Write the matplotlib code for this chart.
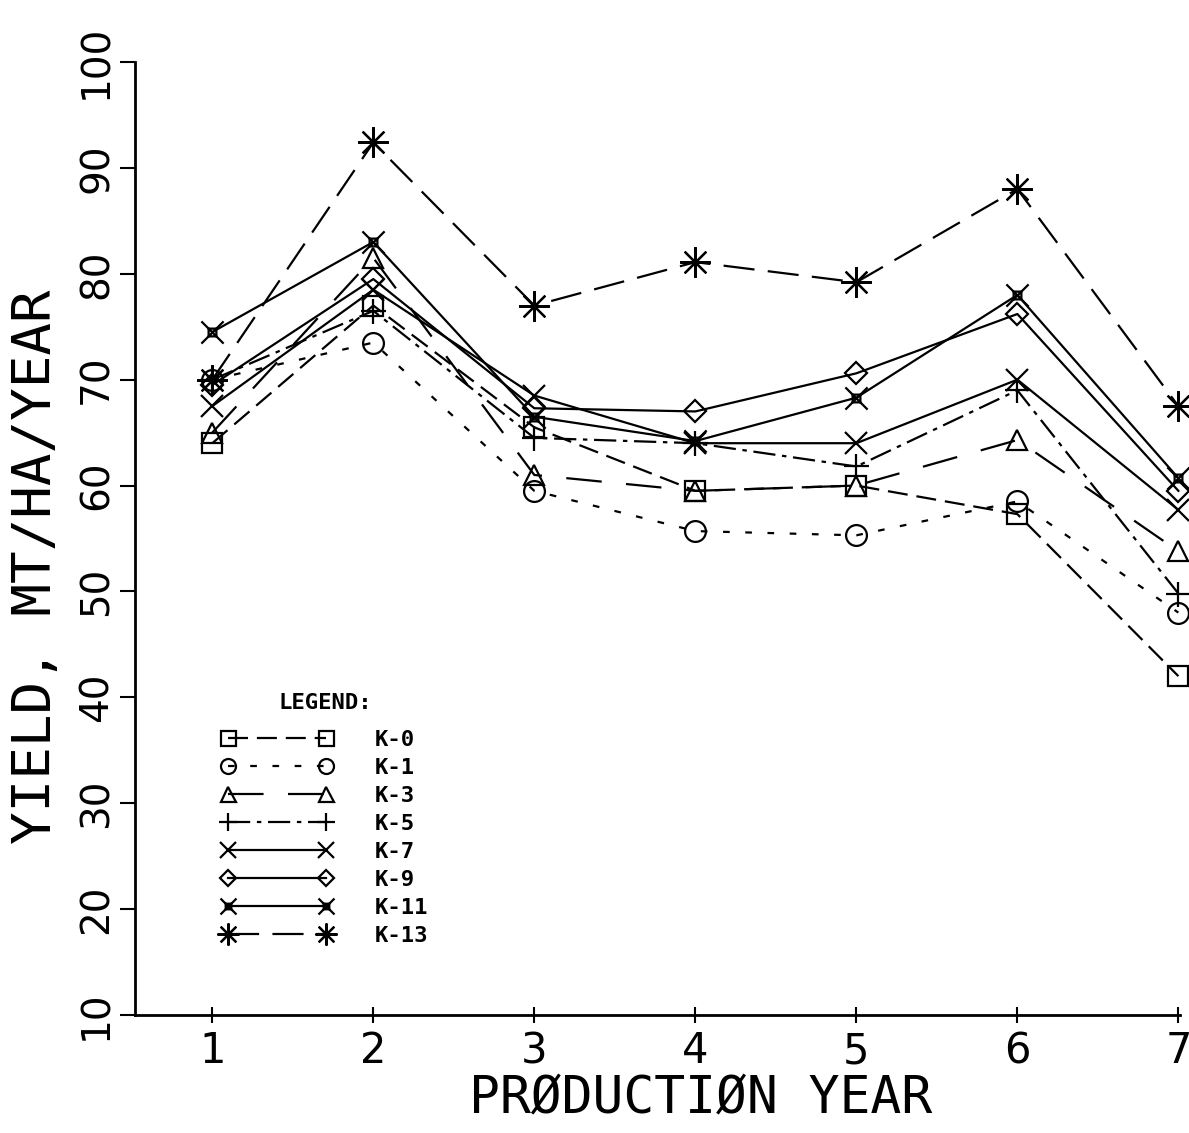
import matplotlib
matplotlib.use("Agg")
import matplotlib.pyplot as plt
from matplotlib.path import Path

years = [1, 2, 3, 4, 5, 6, 7]
k0 = [64.0, 77.0, 65.5, 59.5, 60.0, 57.3, 42.0]
k1 = [70.0, 73.5, 59.5, 55.7, 55.3, 58.5, 48.0]
k3 = [65.0, 81.5, 61.0, 59.5, 60.0, 64.3, 53.8]
k5 = [70.0, 76.5, 64.5, 64.0, 61.8, 69.0, 49.8]
k7 = [67.5, 78.5, 68.5, 64.0, 64.0, 70.0, 57.7]
k9 = [69.5, 79.5, 67.3, 67.0, 70.6, 76.2, 59.5]
k11 = [74.5, 83.0, 66.5, 64.2, 68.3, 78.0, 60.7]
k13 = [70.0, 92.4, 77.0, 81.1, 79.2, 88.0, 67.5]
labels = ["K-0", "K-1", "K-3", "K-5", "K-7", "K-9", "K-11", "K-13"]
yticks = [10, 20, 30, 40, 50, 60, 70, 80, 90, 100]

# hourglass-like X with a box in the centre
s = 0.35
verts = [(-1, -1), (1, 1), (-1, 1), (1, -1),
         (-s, -s), (s, -s), (s, s), (-s, s), (-s, -s)]
codes = [Path.MOVETO, Path.LINETO, Path.MOVETO, Path.LINETO,
         Path.MOVETO, Path.LINETO, Path.LINETO, Path.LINETO, Path.LINETO]
xbox = Path(verts, codes)

styles = [
    dict(marker="s", ms=15, ls=(0, (9, 4))),
    dict(marker="o", ms=15, ls=(0, (3, 7))),
    dict(marker="^", ms=15, ls=(0, (16, 11))),
    dict(marker="+", ms=18, ls=(0, (10, 3, 2, 3))),
    dict(marker="x", ms=16, ls="-"),
    dict(marker="D", ms=11, ls="-"),
    dict(marker=xbox, ms=16, ls="-"),
    dict(marker=(8, 2, 0), ms=22, ls=(0, (14, 6))),
]
series = [k0, k1, k3, k5, k7, k9, k11, k13]

mono = "DejaVu Sans Mono"
sans = "DejaVu Sans"
fig = plt.figure(figsize=(11.89, 11.33), dpi=100)
ax = fig.add_axes([135 / 1189, 118 / 1133, 1045 / 1189, 953 / 1133])

handles = []
for vals, st, lab in zip(series, styles, labels):
    h, = ax.plot(years, vals, color="black", lw=1.6, linestyle=st["ls"],
                 marker=st["marker"], markersize=st["ms"],
                 markerfacecolor="none", markeredgecolor="black",
                 markeredgewidth=1.6, clip_on=False, label=lab)
    handles.append(h)

ax.set_xlim(0.52, 7.01)
ax.set_ylim(10, 100)
ax.set_xticks(years)
ax.set_yticks(yticks)
ax.set_xticklabels([str(y) for y in years], fontfamily=sans, fontsize=30)
ax.set_yticklabels([str(v) for v in yticks], fontfamily=sans, fontsize=28,
                   rotation=90, va="center")
ax.tick_params(axis="x", direction="inout", length=12, width=1.5, pad=5)
ax.tick_params(axis="y", direction="out", length=11, width=1.5, pad=3)
for sp in ["top", "right"]:
    ax.spines[sp].set_visible(False)
for sp in ["left", "bottom"]:
    ax.spines[sp].set_linewidth(2)

fig.text(0.030, 0.50, "YIELD, MT/HA/YEAR", rotation=90, ha="center",
         va="center", fontfamily=mono, fontsize=39)
fig.text(0.589, 0.030, "PRØDUCTIØN YEAR", ha="center", va="center",
         fontfamily=mono, fontsize=37)

leg = ax.legend(handles=handles, labels=labels, loc="upper left",
                bbox_to_anchor=(0.083, 0.338), frameon=False, numpoints=2,
                handlelength=5.0, handletextpad=1.9, labelspacing=0.36,
                borderpad=0, borderaxespad=0, markerscale=0.72,
                title="LEGEND:",
                prop=dict(family=mono, weight="bold", size=16),
                title_fontproperties=dict(family=mono, weight="bold", size=16))
leg._legend_box.sep = 12

fig.savefig("out.png", dpi=100)
